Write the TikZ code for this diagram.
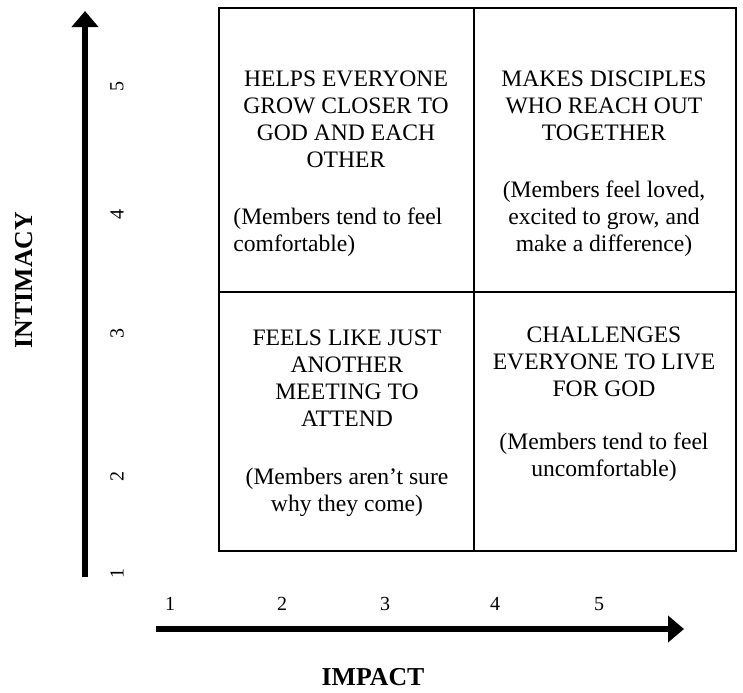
\documentclass[tikz,border=0pt]{standalone}
\usepackage{fontspec}
\setmainfont{Liberation Serif}
\usetikzlibrary{arrows.meta}
\begin{document}
\begin{tikzpicture}[x=0.5pt,y=-0.5pt,
  cell/.style={font=\fontsize{11.8}{13.5}\selectfont, align=center, inner sep=0pt},
  cellleft/.style={font=\fontsize{11.8}{13.5}\selectfont, align=left, inner sep=0pt, anchor=west},
  tick/.style={font=\fontsize{10}{12}\selectfont, inner sep=0pt},
  vtick/.style={tick, rotate=90},
  axislabel/.style={font=\bfseries\fontsize{12.9}{15}\selectfont, inner sep=0pt},
  axisarrow/.style={line width=2.6pt, -{Triangle[width=13pt,length=8pt]}},
  gridline/.style={line width=1pt}]
\useasboundingbox (0,0) rectangle (743,692);
% grid
\draw[gridline] (219,7.5) rectangle (736,550.5);
\draw[gridline] (474,7.5) -- (474,550.5);
\draw[gridline] (219,292) -- (736,292);
% cell texts
\node[cell] (tlt) at (346,119) {HELPS EVERYONE\\GROW CLOSER TO\\GOD AND EACH\\OTHER};
\node[cellleft] (tls) at (233,232) {(Members tend to feel\\comfortable)};
\node[cell] (trt) at (604,105.5) {MAKES DISCIPLES\\WHO REACH OUT\\TOGETHER};
\node[cell] (trs) at (604,219) {(Members feel loved,\\excited to grow, and\\make a difference)};
\node[cell] (blt) at (347,378) {FEELS LIKE JUST\\ANOTHER\\MEETING TO\\ATTEND};
\node[cell] (bls) at (347,492) {(Members aren’t sure\\why they come)};
\node[cell] (brt) at (604,362) {CHALLENGES\\EVERYONE TO LIVE\\FOR GOD};
\node[cell] (brs) at (604,457) {(Members tend to feel\\uncomfortable)};
% vertical axis
\coordinate (vstart) at (85,577);
\coordinate (vend) at (85,11);
\draw[axisarrow] (vstart) -- (vend);
\node[vtick] (v1) at (117,573) {1};
\node[vtick] (v2) at (117,476) {2};
\node[vtick] (v3) at (117,333) {3};
\node[vtick] (v4) at (117,214) {4};
\node[vtick] (v5) at (117,86) {5};
\node[axislabel, rotate=90] (ylab) at (24,280) {INTIMACY};
% horizontal axis
\coordinate (hstart) at (156,629);
\coordinate (hend) at (684,629);
\draw[axisarrow] (hstart) -- (hend);
\node[tick] (h1) at (170,604) {1};
\node[tick] (h2) at (282,604) {2};
\node[tick] (h3) at (385,604) {3};
\node[tick] (h4) at (495,604) {4};
\node[tick] (h5) at (599,604) {5};
\node[axislabel] (xlab) at (373,677) {IMPACT};
\end{tikzpicture}
\end{document}
